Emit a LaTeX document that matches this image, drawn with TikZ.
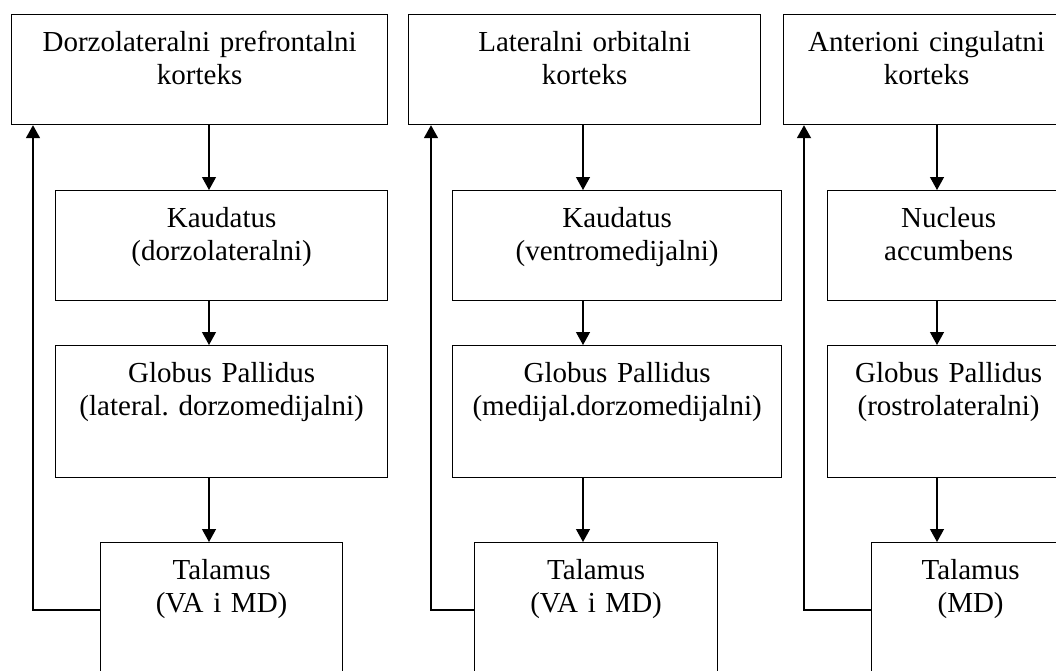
\documentclass[tikz,border=0pt]{standalone}
\usepackage{fontspec}
\setmainfont{Liberation Serif}
\usetikzlibrary{arrows.meta, positioning}
\frenchspacing

\begin{document}
\begin{tikzpicture}[
  x=1pt, y=-1pt,
  font=\fontsize{29}{33}\selectfont,
  box/.style={rectangle, draw, line width=1.2pt, inner sep=0pt, align=center,
              anchor=north west, text height=37pt},
  arrow/.style={-{Triangle[length=13pt, width=14pt]}, line width=1.2pt},
  backarrow/.style={-{Triangle[length=13pt, width=14pt]}, line width=1.8pt},
]
\useasboundingbox (0,0) rectangle (1056,670);
\clip (0,0) rectangle (1056,670);

% dorsolateral prefrontal loop
\node[box, text width=376pt, text depth=73pt] (dlpfc) at (11,14) {Dorzolateralni prefrontalni\\korteks};
\node[box, text width=332pt, text depth=73pt] (kaud1) at (55,190) {Kaudatus\\(dorzolateralni)};
\node[box, text width=332pt, text depth=95pt] (gp1) at (55,345) {Globus Pallidus\\(lateral. dorzomedijalni)};
\node[box, text width=242pt, text depth=113pt] (tal1) at (100,542) {Talamus\\(VA i MD)};

% lateral orbital loop
\node[box, text width=352pt, text depth=73pt] (lofc) at (408,14) {Lateralni orbitalni\\korteks};
\node[box, text width=329pt, text depth=73pt] (kaud2) at (452,190) {Kaudatus\\(ventromedijalni)};
\node[box, text width=329pt, text depth=95pt] (gp2) at (452,345) {Globus Pallidus\\(medijal.dorzomedijalni)};
\node[box, text width=243pt, text depth=113pt] (tal2) at (474,542) {Talamus\\(VA i MD)};

% anterior cingulate loop
\node[box, text width=286pt, text depth=73pt] (acc) at (783,14) {Anterioni cingulatni\\korteks};
\node[box, text width=242pt, text depth=73pt] (nacc) at (827,190) {Nucleus\\accumbens};
\node[box, text width=242pt, text depth=95pt] (gp3) at (827,345) {Globus Pallidus\\(rostrolateralni)};
\node[box, text width=198pt, text depth=113pt] (tal3) at (871,542) {Talamus\\(MD)};

\coordinate (ax1) at (209,0);
\coordinate (ax2) at (583,0);
\coordinate (ax3) at (937,0);
\coordinate (fb1) at (33,610);
\coordinate (fb2) at (431,610);
\coordinate (fb3) at (804,610);

\draw[arrow] (dlpfc.south -| ax1) -- (kaud1.north -| ax1);
\draw[arrow] (kaud1.south -| ax1) -- (gp1.north -| ax1);
\draw[arrow] (gp1.south -| ax1) -- (tal1.north -| ax1);
\draw[backarrow] (tal1.west |- fb1) -- (fb1) -- (dlpfc.south -| fb1);

\draw[arrow] (lofc.south -| ax2) -- (kaud2.north -| ax2);
\draw[arrow] (kaud2.south -| ax2) -- (gp2.north -| ax2);
\draw[arrow] (gp2.south -| ax2) -- (tal2.north -| ax2);
\draw[backarrow] (tal2.west |- fb2) -- (fb2) -- (lofc.south -| fb2);

\draw[arrow] (acc.south -| ax3) -- (nacc.north -| ax3);
\draw[arrow] (nacc.south -| ax3) -- (gp3.north -| ax3);
\draw[arrow] (gp3.south -| ax3) -- (tal3.north -| ax3);
\draw[backarrow] (tal3.west |- fb3) -- (fb3) -- (acc.south -| fb3);
\end{tikzpicture}
\end{document}
